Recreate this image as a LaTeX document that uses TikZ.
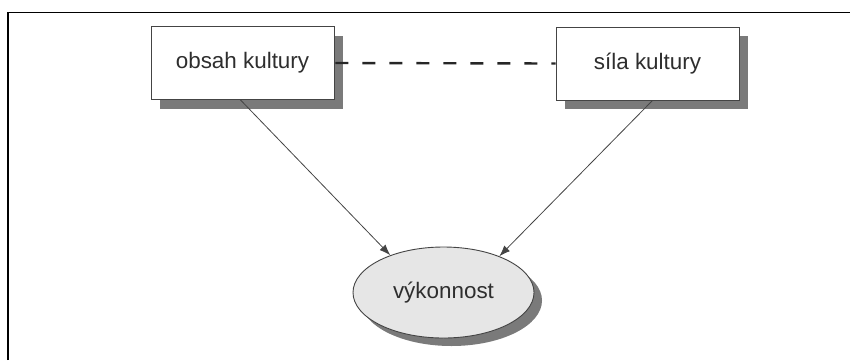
\documentclass[tikz,border=0pt]{standalone}
\usepackage{fontspec}
\setmainfont{Liberation Sans}
\usetikzlibrary{shapes.geometric,shadows,arrows.meta}
\definecolor{edgegray}{HTML}{444444}
\definecolor{shadowgray}{HTML}{7A7A7A}
\definecolor{ovalfill}{HTML}{E6E6E6}
\definecolor{textgray}{HTML}{2E2E2E}
\begin{document}
\begin{tikzpicture}[x=1bp,y=-1bp,
  concept/.style={draw=edgegray, line width=0.9bp, fill=white,
    minimum width=183bp, minimum height=73bp, inner sep=0pt,
    text=textgray, font=\fontsize{22.5}{27}\selectfont,
    drop shadow={shadow xshift=9bp, shadow yshift=-9bp, fill=shadowgray, opacity=1}},
  outcome/.style={ellipse, draw=edgegray, line width=0.9bp, fill=ovalfill,
    minimum width=181bp, minimum height=91bp, inner sep=0pt,
    text=textgray, font=\fontsize{22.5}{27}\selectfont,
    drop shadow={shadow xshift=8bp, shadow yshift=-8bp, fill=shadowgray, opacity=1}},
  link/.style={draw=edgegray, line width=0.8bp,
    -{Latex[length=11bp,width=8bp]}},
  relation/.style={draw=black!85, line width=2.4bp, dash pattern=on 13bp off 14bp}]
  \useasboundingbox (0,0) rectangle (850,360);
  % outer frame (top and left edges)
  \draw[line width=1.4bp] (8,360) -- (8,12.3) -- (850,12.3);

  \node[concept] (obsah) at (242.5,63) {obsah kultury};
  \node[concept] (sila) at (647.5,63.5) {síla kultury};
  \node[outcome] (vykon) at (443.5,292.5) {výkonnost};

  \draw[relation] ([xshift=1bp]obsah.east) -- (sila.west);
  \draw[link] ([xshift=-2bp]obsah.south) -- (vykon.145);
  \draw[link] ([xshift=5bp]sila.south) -- (vykon.33);
\end{tikzpicture}
\end{document}
